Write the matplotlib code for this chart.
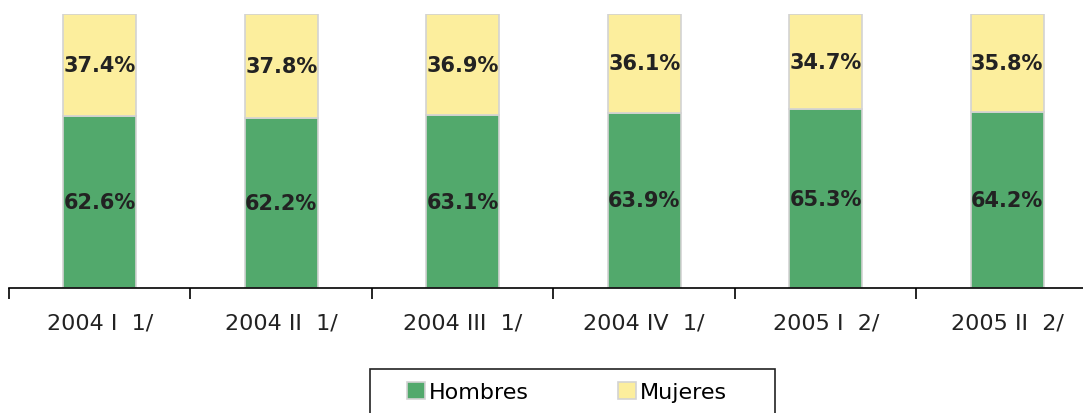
import matplotlib.pyplot as plt
from matplotlib.patches import Rectangle
import numpy as np

# Datos
periodos = ["2004 I  1/", "2004 II  1/", "2004 III  1/", "2004 IV  1/", "2005 I  2/", "2005 II  2/"]
hombres = [62.6, 62.2, 63.1, 63.9, 65.3, 64.2]
mujeres = [37.4, 37.8, 36.9, 36.1, 34.7, 35.8]

verde = "#52A96C"
amarillo = "#FCEE9D"
borde = "#D3D3D3"

fig = plt.figure(figsize=(10.83, 4.14), dpi=100)
# el eje sigue por fuera del borde derecho como en el original
ax = fig.add_axes([9 / 1083, 125 / 414, 1089 / 1083, 274 / 414])

x = np.arange(len(periodos))
ancho = 0.4
b1 = ax.bar(x, hombres, ancho, color=verde, edgecolor=borde, linewidth=1.2, label="Hombres")
b2 = ax.bar(x, mujeres, ancho, bottom=hombres, color=amarillo, edgecolor=borde, linewidth=1.2, label="Mujeres")

for i in range(len(x)):
    ax.text(x[i], hombres[i] / 2, f"{hombres[i]:.1f}%", ha="center", va="center",
            fontsize=15, fontweight="bold", color="#222222")
    ax.text(x[i], hombres[i] + mujeres[i] / 2, f"{mujeres[i]:.1f}%", ha="center", va="center",
            fontsize=15, fontweight="bold", color="#222222")

ax.set_xlim(-0.5, len(x) - 0.5)
ax.set_ylim(0, 100)
for s in ["top", "right", "left"]:
    ax.spines[s].set_visible(False)
ax.spines["bottom"].set_linewidth(1.2)
ax.set_yticks([])

# ticks en los limites de categoria, etiquetas en el centro
ax.set_xticks(np.arange(-0.5, len(x), 1.0))
ax.set_xticklabels([])
ax.tick_params(axis="x", which="major", direction="out", length=8, width=1.2)
ax.set_xticks(x, minor=True)
ax.set_xticklabels(periodos, minor=True, fontsize=16, color="#222222")
ax.tick_params(axis="x", which="minor", length=0, pad=18)

# marco de la leyenda (se corta en el borde inferior)
marco = Rectangle((370 / 1083, -10 / 414), 405 / 1083, 54 / 414, transform=fig.transFigure,
                  fill=False, edgecolor="#222222", linewidth=1.2)
fig.patches.append(marco)

leg = fig.legend(handles=[b1, b2], loc="center left", bbox_to_anchor=(407 / 1083, 21 / 414),
                 ncol=2, fontsize=16, frameon=False,
                 handlelength=0.8, handleheight=0.8, handletextpad=0.2, columnspacing=4.0,
                 borderpad=0, borderaxespad=0, labelspacing=0)

plt.savefig("out.png", dpi=100)
